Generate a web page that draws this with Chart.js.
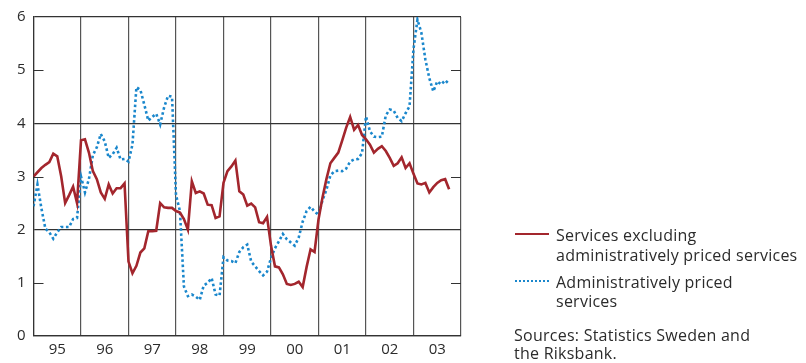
<!DOCTYPE html>
<html>
<head>
<meta charset="utf-8">
<script src="https://cdn.jsdelivr.net/npm/chart.js@4/dist/chart.umd.min.js"></script>
<style>
  html, body { margin: 0; padding: 0; background: #fff; }
  #wrap { position: relative; width: 806px; height: 363px; overflow: hidden; }
  #wrap canvas { position: absolute; left: 0; top: 0; }
  .t { position: absolute; font-family: "Open Sans", "DejaVu Sans", sans-serif; font-size: 16px; letter-spacing: 0.25px; color: #2b2b2b; line-height: 20px; white-space: nowrap; }
  .sw { position: absolute; height: 0; }
</style>
</head>
<body>
<div id="wrap">
  <canvas id="c" width="806" height="363"></canvas>
  <div class="sw" style="left:515px; top:233px; width:34px; border-top:2.5px solid #a3262d;"></div>
  <div class="t" style="left:556px; top:225px;">Services excluding</div>
  <div class="t" style="left:556px; top:245px;">administratively priced services</div>
  <div class="sw" style="left:515px; top:280px; width:34px; border-top:2.5px dotted #1a87cc;"></div>
  <div class="t" style="left:556px; top:272px;">Administratively priced</div>
  <div class="t" style="left:556px; top:291px;">services</div>
  <div class="t" style="left:514px; top:325px;">Sources: Statistics Sweden and</div>
  <div class="t" style="left:514px; top:343px;">the Riksbank.</div>
</div>
<script>
const yearLabels = ['95','96','97','98','99','00','01','02','03'];
const yTicks = [0,1,2,3,4,5,6];

// Monthly values, Jan 1995 onward
const servicesExAdmin = [
  3.00,3.08,3.16,3.22,3.27,3.43,3.38,3.00,2.50,2.65,2.81,2.50,
  3.68,3.70,3.45,3.10,2.95,2.70,2.58,2.85,2.68,2.78,2.78,2.87,
  1.40,1.18,1.32,1.57,1.65,1.97,1.97,1.98,2.50,2.42,2.41,2.41,
  2.35,2.32,2.20,2.00,2.91,2.69,2.72,2.68,2.47,2.46,2.22,2.25,
  2.88,3.10,3.19,3.30,2.72,2.66,2.45,2.49,2.42,2.14,2.12,2.24,
  1.70,1.31,1.29,1.16,0.98,0.96,0.98,1.02,0.92,1.30,1.63,1.58,
  2.19,2.60,2.95,3.25,3.35,3.45,3.68,3.92,4.12,3.88,3.97,3.78,
  3.70,3.60,3.45,3.52,3.57,3.48,3.35,3.20,3.25,3.36,3.16,3.25,
  3.05,2.87,2.85,2.88,2.70,2.80,2.88,2.93,2.95,2.76
];
const adminPriced = [
  2.44,2.85,2.40,2.02,1.95,1.83,1.95,2.05,2.05,2.05,2.20,2.22,
  3.00,2.70,2.95,3.40,3.55,3.80,3.66,3.35,3.42,3.54,3.32,3.33,
  3.28,3.60,4.68,4.63,4.35,4.05,4.12,4.18,3.98,4.30,4.52,4.50,
  2.65,2.35,0.93,0.75,0.78,0.74,0.68,0.95,1.00,1.09,0.78,0.76,
  1.48,1.42,1.41,1.37,1.58,1.67,1.72,1.40,1.31,1.22,1.14,1.21,
  1.47,1.65,1.78,1.92,1.82,1.76,1.70,1.85,2.15,2.35,2.43,2.34,
  2.28,2.55,2.75,3.02,3.10,3.11,3.10,3.15,3.28,3.32,3.33,3.44,
  4.13,3.85,3.75,3.74,3.75,4.15,4.26,4.24,4.10,4.04,4.19,4.32,
  5.40,5.95,5.70,5.20,4.85,4.60,4.79,4.73,4.81,4.74
];

const toXY = arr => arr.map((v, i) => ({ x: i, y: v }));
const FRAME = '#333333';
const VGRID = '#555555';

const shortTicks = {
  id: 'shortTicks',
  afterDraw(chart) {
    const { ctx, chartArea: a, scales: { y } } = chart;
    ctx.save();
    ctx.strokeStyle = FRAME;
    ctx.lineWidth = 1.2;
    [1, 3, 5].forEach(v => {
      const py = Math.round(y.getPixelForValue(v)) + 0.5;
      ctx.beginPath();
      ctx.moveTo(a.left, py); ctx.lineTo(a.left + 10, py);
      ctx.moveTo(a.right - 10, py); ctx.lineTo(a.right, py);
      ctx.stroke();
    });
    ctx.restore();
  }
};

new Chart(document.getElementById('c'), {
  type: 'line',
  data: {
    datasets: [
      {
        label: 'Services excluding administratively priced services',
        data: toXY(servicesExAdmin),
        borderColor: '#a3262d',
        borderWidth: 2.6,
        pointRadius: 0,
        tension: 0,
        fill: false
      },
      {
        label: 'Administratively priced services',
        data: toXY(adminPriced),
        borderColor: '#1a87cc',
        borderWidth: 2.6,
        borderDash: [2.6, 2.6],
        pointRadius: 0,
        tension: 0,
        fill: false
      }
    ]
  },
  options: {
    responsive: false,
    animation: false,
    layout: { padding: { top: 17, right: 345, left: 0, bottom: 0 } },
    plugins: { legend: { display: false }, tooltip: { enabled: false } },
    scales: {
      x: {
        type: 'linear',
        min: 0,
        max: 108,
        afterBuildTicks(s) {
          const t = [];
          for (let v = 0; v <= 108; v += 6) t.push({ value: v });
          s.ticks = t;
        },
        afterFit(s) { s.height = 27; },
        ticks: {
          autoSkip: false,
          maxRotation: 0,
          padding: 5,
          color: '#2b2b2b',
          font: { family: '"Open Sans", "DejaVu Sans", sans-serif', size: 15 },
          callback: v => (v % 12 === 6 ? yearLabels[(v - 6) / 12] : '')
        },
        grid: {
          drawTicks: false,
          lineWidth: 1.2,
          color: c => (c.tick && c.tick.value % 12 === 0 ? VGRID : 'rgba(0,0,0,0)')
        },
        border: { display: true, color: FRAME, width: 1.2 }
      },
      y: {
        min: 0,
        max: 6,
        afterBuildTicks(s) { s.ticks = yTicks.map(v => ({ value: v })); },
        afterFit(s) { s.width = 33.5; },
        ticks: {
          padding: 8,
          color: '#2b2b2b',
          font: { family: '"Open Sans", "DejaVu Sans", sans-serif', size: 15 }
        },
        grid: {
          drawTicks: false,
          lineWidth: 1.2,
          color: c => (c.tick && c.tick.value % 2 === 0 ? FRAME : 'rgba(0,0,0,0)')
        },
        border: { display: true, color: FRAME, width: 1.2 }
      }
    }
  },
  plugins: [shortTicks]
});
</script>
</body>
</html>
